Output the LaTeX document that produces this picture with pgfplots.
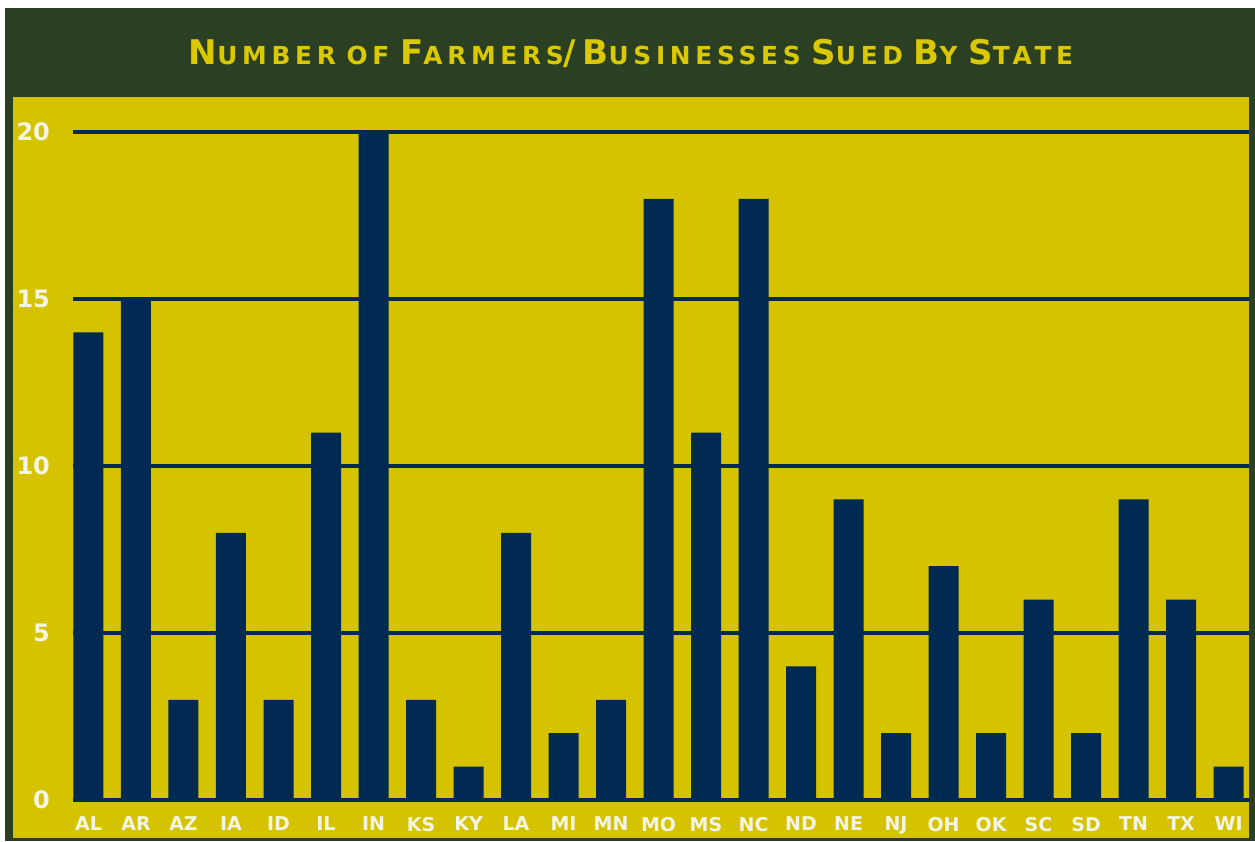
\documentclass[border=0pt]{standalone}
\usepackage{pgfplots}
\pgfplotsset{compat=1.18}
\usepackage{fontspec}
\setmainfont{DejaVu Sans}
\newfontfamily\titlefont[LetterSpace=19]{DejaVu Sans Bold}
\definecolor{hdrgreen}{RGB}{43,64,34}
\definecolor{panelyellow}{RGB}{214,195,0}
\definecolor{titleyellow}{RGB}{218,200,0}
\definecolor{barnavy}{RGB}{0,42,82}
\definecolor{lbl}{RGB}{245,245,230}
\newcommand{\SC}[2]{{\fontsize{17}{17}\selectfont #1}{\fontsize{12.4}{12.4}\selectfont #2}}
\begin{document}
\begin{tikzpicture}[x=1pt,y=1pt]
% background frame (1px = 0.5pt, origin at axis lower-left)
\fill[white] (-36.5,-20.5) rectangle (591,400);
\fill[hdrgreen] (-34,-20.5) rectangle (591,396);
\fill[panelyellow] (-30,-19) rectangle (588,351.5);
\begin{axis}[
  at={(0,0)}, anchor=south west,
  scale only axis, width=588pt, height=334pt,
  xmin=-0.326, xmax=24.43, ymin=0, ymax=20,
  axis line style={draw=none},
  axis background/.style={fill=none},
  ybar, bar width=15pt,
  xtick=data,
  xticklabels={AL,AR,AZ,IA,ID,IL,IN,KS,KY,LA,MI,MN,MO,MS,NC,ND,NE,NJ,OH,OK,SC,SD,TN,TX,WI},
  ytick={0,5,10,15,20},
  major tick length=0pt,
  ymajorgrids,
  grid style={draw=barnavy, line width=1.7pt},
  extra y ticks={0}, extra y tick style={grid style={draw=barnavy,line width=1pt}, yticklabels={}},
  x tick label style={font=\fontsize{9.5}{10}\selectfont\bfseries, text=lbl, yshift=-5pt},
  y tick label style={font=\fontsize{12}{13}\selectfont\bfseries, text=lbl, anchor=east, xshift=-8pt},
  /pgf/number format/assume math mode=true,
  clip=false,
]
\addplot[fill=barnavy, draw=none] coordinates {
(0,14) (1,15) (2,3) (3,8) (4,3) (5,11) (6,20) (7,3) (8,1) (9,8)
(10,2) (11,3) (12,18) (13,11) (14,18) (15,4) (16,9) (17,2) (18,7) (19,2)
(20,6) (21,2) (22,9) (23,6) (24,1)};
\end{axis}
\node[anchor=base, text=titleyellow, font=\titlefont] at (279,367.5)
  {\SC{N}{UMBER} \SC{}{OF} \SC{F}{ARMERS}\SC{/}{}\SC{B}{USINESSES} \SC{S}{UED} \SC{B}{Y} \SC{S}{TATE}};
\end{tikzpicture}
\end{document}
